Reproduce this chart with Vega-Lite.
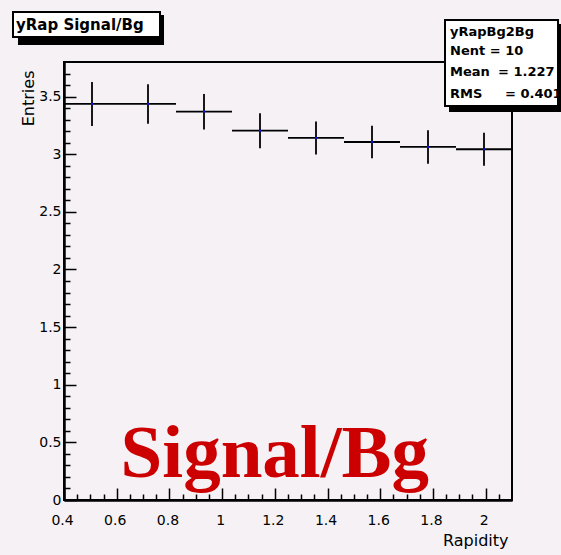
{
  "$schema": "https://vega.github.io/schema/vega-lite/v6.json",
  "width": 448,
  "height": 438,
  "autosize": "none",
  "padding": {"left": 64, "top": 62, "right": 49, "bottom": 55},
  "background": "#f5f1f5",
  "config": {
    "view": {"stroke": "black", "strokeWidth": 2},
    "axis": {"grid": false, "labelFont": "DejaVu Sans", "labelFontSize": 14, "labelColor": "black", "tickColor": "black", "domainColor": "black", "labelOverlap": false, "labelFlush": false, "titleFont": "DejaVu Sans", "titleFontWeight": "normal", "titleColor": "black"}
  },
  "resolve": {"axis": {"x": "independent", "y": "independent"}},
  "layer": [
    {
      "data": {"values": [
        {"lo": 0.4, "hi": 0.6125, "c": 0.50625, "v": 3.436, "vlo": 3.245, "vhi": 3.627},
        {"lo": 0.6125, "hi": 0.825, "c": 0.71875, "v": 3.436, "vlo": 3.265, "vhi": 3.607},
        {"lo": 0.825, "hi": 1.0375, "c": 0.93125, "v": 3.369, "vlo": 3.215, "vhi": 3.523},
        {"lo": 1.0375, "hi": 1.25, "c": 1.14375, "v": 3.204, "vlo": 3.052, "vhi": 3.356},
        {"lo": 1.25, "hi": 1.4625, "c": 1.35625, "v": 3.141, "vlo": 2.998, "vhi": 3.284},
        {"lo": 1.4625, "hi": 1.675, "c": 1.56875, "v": 3.106, "vlo": 2.965, "vhi": 3.247},
        {"lo": 1.675, "hi": 1.8875, "c": 1.78125, "v": 3.063, "vlo": 2.918, "vhi": 3.208},
        {"lo": 1.8875, "hi": 2.1, "c": 1.99375, "v": 3.043, "vlo": 2.9, "vhi": 3.186}
      ]},
      "resolve": {"axis": {"x": "independent", "y": "independent"}},
      "layer": [
        {
          "mark": {"type": "rule", "color": "black", "strokeWidth": 1.8},
          "encoding": {
            "x": {"field": "lo", "type": "quantitative",
                  "scale": {"domain": [0.4, 2.1], "nice": false, "zero": false},
                  "axis": {"orient": "bottom", "values": [0.4, 0.6, 0.8, 1, 1.2, 1.4, 1.6, 1.8, 2], "format": "~g", "ticks": false, "domainWidth": 2, "labelPadding": 13, "labelOffset": -2, "title": "Rapidity", "titleFontSize": 16, "titleAnchor": "end", "titleAlign": "right", "titleBaseline": "bottom", "titleX": 444, "titleY": 48}},
            "x2": {"field": "hi"},
            "y": {"field": "v", "type": "quantitative",
                  "scale": {"domain": [0, 3.8], "nice": false, "zero": false},
                  "axis": {"orient": "left", "values": [0, 0.5, 1, 1.5, 2, 2.5, 3, 3.5], "format": "~g", "ticks": false, "domainWidth": 2, "labelPadding": 3, "title": "Entries", "titleFontSize": 16, "titleAngle": -90, "titleAlign": "right", "titleBaseline": "middle", "titleX": -36, "titleY": 8}}
          }
        },
        {
          "mark": {"type": "rule", "color": "black", "strokeWidth": 1.8},
          "encoding": {
            "x": {"field": "c", "type": "quantitative", "scale": {"domain": [0.4, 2.1], "nice": false, "zero": false},
                  "axis": {"orient": "top", "offset": -438, "values": [0.4, 0.6, 0.8, 1, 1.2, 1.4, 1.6, 1.8, 2], "labels": true, "labelExpr": "''", "domain": true, "domainWidth": 2, "ticks": true, "tickSize": 12, "tickWidth": 1.5, "tickColor": "black", "title": null}},
            "y": {"field": "vlo", "type": "quantitative", "scale": {"domain": [0, 3.8], "nice": false, "zero": false},
                  "axis": {"orient": "right", "offset": -448, "values": [0, 0.5, 1, 1.5, 2, 2.5, 3, 3.5], "labels": true, "labelExpr": "''", "domain": true, "domainWidth": 2, "ticks": true, "tickSize": 12, "tickWidth": 1.5, "tickColor": "black", "title": null}},
            "y2": {"field": "vhi"}
          }
        },
        {
          "mark": {"type": "point", "filled": true, "color": "#1010ff", "size": 5, "opacity": 1},
          "encoding": {
            "x": {"field": "c", "type": "quantitative", "scale": {"domain": [0.4, 2.1], "nice": false, "zero": false},
                  "axis": {"orient": "bottom", "values": [0.45, 0.5, 0.55, 0.65, 0.7, 0.75, 0.85, 0.9, 0.95, 1.05, 1.1, 1.15, 1.25, 1.3, 1.35, 1.45, 1.5, 1.55, 1.65, 1.7, 1.75, 1.85, 1.9, 1.95, 2.05], "labels": false, "domain": false, "ticks": true, "tickSize": -6, "tickWidth": 1.5, "tickColor": "black", "title": null}},
            "y": {"field": "v", "type": "quantitative", "scale": {"domain": [0, 3.8], "nice": false, "zero": false},
                  "axis": {"orient": "left", "values": [0.1, 0.2, 0.3, 0.4, 0.6, 0.7, 0.8, 0.9, 1.1, 1.2, 1.3, 1.4, 1.6, 1.7, 1.8, 1.9, 2.1, 2.2, 2.3, 2.4, 2.6, 2.7, 2.8, 2.9, 3.1, 3.2, 3.3, 3.4, 3.6, 3.7], "labels": false, "domain": false, "ticks": true, "tickSize": -6, "tickWidth": 1.5, "tickColor": "black", "title": null}}
          }
        }
      ]
    },
    {
      "data": {"values": [{}]},
      "mark": {"type": "text", "font": "Liberation Serif", "fontWeight": "bold", "fontSize": 75, "color": "#cc0000", "align": "center", "baseline": "alphabetic"},
      "encoding": {
        "x": {"datum": 1.2, "type": "quantitative", "scale": {"domain": [0.4, 2.1], "nice": false, "zero": false}, "axis": null},
        "y": {"datum": 0.2, "type": "quantitative", "scale": {"domain": [0, 3.8], "nice": false, "zero": false}, "axis": null},
        "text": {"value": "Signal/Bg"}
      }
    },
    {
      "data": {"values": [{}]},
      "mark": {"type": "rect", "fill": "black"},
      "encoding": {
        "x": {"datum": 0.2254, "type": "quantitative", "scale": {"domain": [0.4, 2.1], "nice": false, "zero": false}, "axis": null},
        "x2": {"datum": 0.7795},
        "y": {"datum": 4.208, "type": "quantitative", "scale": {"domain": [0, 3.8], "nice": false, "zero": false}, "axis": null},
        "y2": {"datum": 3.948}
      }
    },
    {
      "data": {"values": [{}]},
      "mark": {"type": "rect", "fill": "white", "stroke": "black", "strokeWidth": 2},
      "encoding": {
        "x": {"datum": 0.2065, "type": "quantitative", "scale": {"domain": [0.4, 2.1], "nice": false, "zero": false}, "axis": null},
        "x2": {"datum": 0.7643},
        "y": {"datum": 4.234, "type": "quantitative", "scale": {"domain": [0, 3.8], "nice": false, "zero": false}, "axis": null},
        "y2": {"datum": 4.017}
      }
    },
    {
      "data": {"values": [{}]},
      "mark": {"type": "text", "font": "DejaVu Sans", "fontWeight": "bold", "fontSize": 15, "color": "black", "align": "left", "baseline": "middle"},
      "encoding": {
        "x": {"datum": 0.2179, "type": "quantitative", "scale": {"domain": [0.4, 2.1], "nice": false, "zero": false}, "axis": null},
        "y": {"datum": 4.121, "type": "quantitative", "scale": {"domain": [0, 3.8], "nice": false, "zero": false}, "axis": null},
        "text": {"value": "yRap Signal/Bg"}
      }
    },
    {
      "data": {"values": [{}]},
      "mark": {"type": "rect", "fill": "black"},
      "encoding": {
        "x": {"datum": 1.861, "type": "quantitative", "scale": {"domain": [0.4, 2.1], "nice": false, "zero": false}, "axis": null},
        "x2": {"datum": 2.293},
        "y": {"datum": 4.13, "type": "quantitative", "scale": {"domain": [0, 3.8], "nice": false, "zero": false}, "axis": null},
        "y2": {"datum": 3.366}
      }
    },
    {
      "data": {"values": [{}]},
      "mark": {"type": "rect", "fill": "white", "stroke": "black", "strokeWidth": 2},
      "encoding": {
        "x": {"datum": 1.8458, "type": "quantitative", "scale": {"domain": [0.4, 2.1], "nice": false, "zero": false}, "axis": null},
        "x2": {"datum": 2.2746},
        "y": {"datum": 4.1645, "type": "quantitative", "scale": {"domain": [0, 3.8], "nice": false, "zero": false}, "axis": null},
        "y2": {"datum": 3.4184}
      }
    },
    {
      "data": {"values": [
        {"line": "yRapBg2Bg", "k": 4.06},
        {"line": "Nent = 10", "k": 3.896},
        {"line": "Mean", "k": 3.713},
        {"line": "RMS", "k": 3.522}
      ]},
      "mark": {"type": "text", "font": "DejaVu Sans", "fontWeight": "bold", "fontSize": 13, "color": "black", "align": "left", "baseline": "middle"},
      "encoding": {
        "x": {"datum": 1.8648, "type": "quantitative", "scale": {"domain": [0.4, 2.1], "nice": false, "zero": false}, "axis": null},
        "y": {"field": "k", "type": "quantitative", "scale": {"domain": [0, 3.8], "nice": false, "zero": false}, "axis": null},
        "text": {"field": "line"}
      }
    },
    {
      "data": {"values": [{}]},
      "mark": {"type": "text", "font": "DejaVu Sans", "fontWeight": "bold", "fontSize": 13, "color": "black", "align": "left", "baseline": "middle"},
      "encoding": {
        "x": {"datum": 2.0469, "type": "quantitative", "scale": {"domain": [0.4, 2.1], "nice": false, "zero": false}, "axis": null},
        "y": {"datum": 3.713, "type": "quantitative", "scale": {"domain": [0, 3.8], "nice": false, "zero": false}, "axis": null},
        "text": {"value": "=  1.227"}
      }
    },
    {
      "data": {"values": [{}]},
      "mark": {"type": "text", "font": "DejaVu Sans", "fontWeight": "bold", "fontSize": 13, "color": "black", "align": "left", "baseline": "middle"},
      "encoding": {
        "x": {"datum": 2.0734, "type": "quantitative", "scale": {"domain": [0.4, 2.1], "nice": false, "zero": false}, "axis": null},
        "y": {"datum": 3.522, "type": "quantitative", "scale": {"domain": [0, 3.8], "nice": false, "zero": false}, "axis": null},
        "text": {"value": "= 0.4015"}
      }
    }
  ]
}
